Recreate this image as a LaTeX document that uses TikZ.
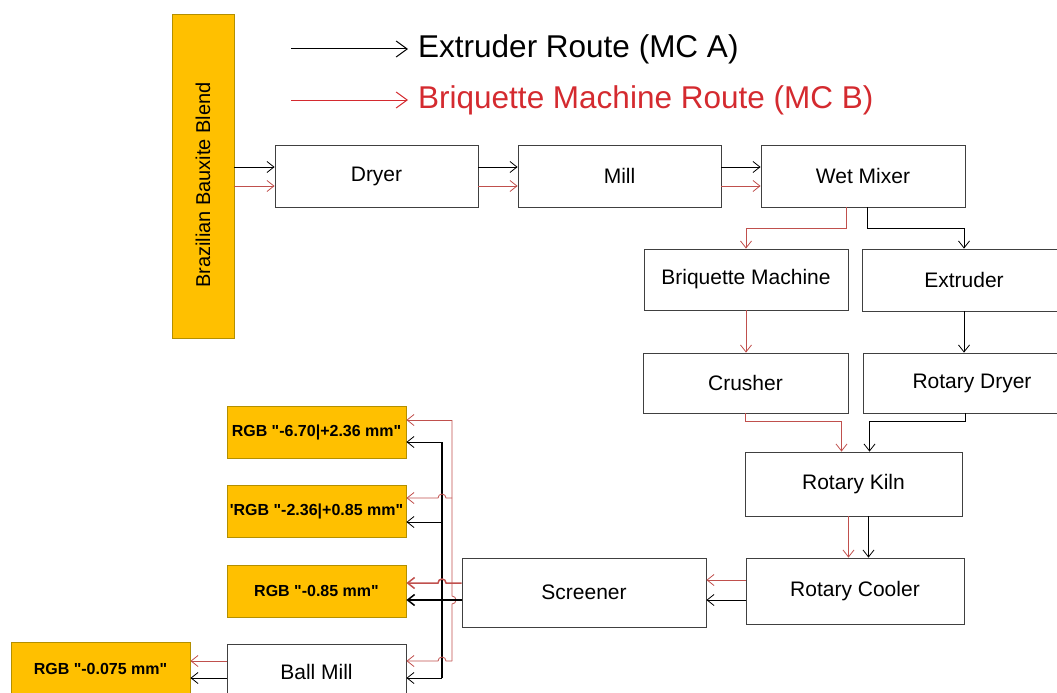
\documentclass[tikz,border=0pt]{standalone}
\usepackage{fontspec}
\newfontfamily\arialfont{Liberation Sans}
\usetikzlibrary{arrows.meta,calc}

\definecolor{mcbred}{HTML}{C0504D}
\definecolor{legendred}{HTML}{D42A2F}
\definecolor{gradefill}{HTML}{FFC000}
\definecolor{gradeedge}{HTML}{B38F00}

\tikzset{
  unitbox/.style={draw=black!75, fill=white, line width=0.8pt, inner sep=0pt,
    font=\arialfont\fontsize{21}{25}\selectfont},
  gradebox/.style={draw=gradeedge, fill=gradefill, line width=0.8pt, inner sep=0pt,
    minimum width=179pt, minimum height=52pt,
    font=\arialfont\bfseries\fontsize{16}{19}\selectfont},
  routeA/.style={black, line width=0.8pt, -{Straight Barb[length=7pt,width=11pt]}},
  routeB/.style={mcbred, line width=0.8pt, -{Straight Barb[length=7pt,width=11pt]}},
  legendtip/.style={line width=1pt, -{Straight Barb[length=11pt,width=16pt]}},
  legendtext/.style={anchor=west, inner sep=0pt, font=\arialfont\fontsize{31.5}{36}\selectfont},
  busline/.style={line width=1.5pt},
}

\begin{document}
\begin{tikzpicture}[x=1pt, y=1pt]
  \clip (0,0) rectangle (1057,-693);

  % legend
  \coordinate (legA) at (291,-49);
  \coordinate (legB) at (291,-100);
  \node[legendtext] (legtxtA) at (418,-49) {Extruder Route (MC A)};
  \node[legendtext, text=legendred] (legtxtB) at (418,-100) {Briquette Machine Route (MC B)};
  \draw[legendtip, black] (legA) -- ([xshift=-10pt]legtxtA.west);
  \draw[legendtip, legendred] (legB) -- ([xshift=-10pt]legtxtB.west);

  % feed and first line
  \node[draw=gradeedge, fill=gradefill, line width=0.8pt,
        minimum width=62pt, minimum height=324pt] (blend) at (203,-176) {};
  \node[rotate=90, font=\arialfont\fontsize{20}{24}\selectfont] (blendtxt) at (203,-185)
    {Brazilian Bauxite Blend};
  \node[unitbox, minimum width=203pt, minimum height=62pt] (dryer) at (376.5,-176) {Dryer};
  \node[unitbox, minimum width=203pt, minimum height=62pt] (mill) at (619.5,-176) {Mill};
  \node[unitbox, minimum width=204pt, minimum height=62pt] (wetmix) at (863,-176) {Wet Mixer};

  % two routes
  \node[unitbox, minimum width=204pt, minimum height=61pt] (briq) at (746,-279.5) {Briquette Machine};
  \node[unitbox, minimum width=204pt, minimum height=62pt] (extr) at (964,-280) {Extruder};
  \node[unitbox, minimum width=205pt, minimum height=60pt] (crush) at (745.5,-383) {Crusher};
  \node[unitbox, minimum width=218pt, minimum height=60pt] (rdryer) at (972,-383) {Rotary Dryer};
  \node[unitbox, minimum width=217pt, minimum height=64pt] (kiln) at (853.5,-484) {Rotary Kiln};
  \node[unitbox, minimum width=218pt, minimum height=66pt] (cooler) at (855,-591) {Rotary Cooler};
  \node[unitbox, minimum width=244pt, minimum height=69pt] (screen) at (584,-592.5) {Screener};

  % products
  \node[gradebox] (grade1) at (316.5,-432) {RGB "-6.70|+2.36 mm"};
  \node[gradebox] (grade2) at (316.5,-511) {'RGB "-2.36|+0.85 mm"};
  \node[gradebox] (grade3) at (316.5,-591) {RGB "-0.85 mm"};
  \node[unitbox, minimum width=179pt, minimum height=56pt] (ballmill) at (316.5,-672) {Ball Mill};
  \node[gradebox, minimum height=54pt] (grade4) at (100.5,-669) {RGB "-0.075 mm"};

  % first line
  \foreach \a/\b in {blend/dryer, dryer/mill, mill/wetmix} {
    \draw[routeA] ([yshift=9pt]\b.west -| \a.east) -- ([yshift=9pt]\b.west);
    \draw[routeB] ([yshift=-10pt]\b.west -| \a.east) -- ([yshift=-10pt]\b.west);
  }

  % split after the wet mixer
  \draw[routeB] ([xshift=-17pt]wetmix.south) -- ++(0,-21) -| (briq.north);
  \draw[routeA] ([xshift=4pt]wetmix.south) -- ++(0,-21) -| (extr.north);
  \draw[routeB] (briq.south) -- (briq.south |- crush.north);
  \draw[routeA] (extr.south) -- (extr.south |- rdryer.north);
  \draw[routeB] (crush.south) -- ++(0,-8) -| ([xshift=-12pt]kiln.north);
  \draw[routeA] ([xshift=-7pt]rdryer.south) -- ++(0,-8) -| ([xshift=16pt]kiln.north);
  \draw[routeB] ([xshift=-5pt]kiln.south) -- ([xshift=-5pt]kiln.south |- cooler.north);
  \draw[routeA] ([xshift=15pt]kiln.south) -- ([xshift=15pt]kiln.south |- cooler.north);
  \draw[routeB] ([yshift=11pt]cooler.west) -- ([yshift=11pt]cooler.west -| screen.east);
  \draw[routeA] ([yshift=-9pt]cooler.west) -- ([yshift=-9pt]cooler.west -| screen.east);

  % screener buses
  \coordinate (scrB) at ([yshift=9.5pt]screen.west);
  \coordinate (scrA) at ([yshift=-7.5pt]screen.west);
  \coordinate (tapA1) at (442,-442);
  \coordinate (tapA2) at (442,-522);
  \coordinate (tapA4) at (442,-678);
  \coordinate (tapB1) at (452,-420);
  \coordinate (tapB2) at (452,-498);
  \coordinate (tapB4) at (452,-661);

  \draw[busline] (tapA1) -- (tapA4);
  \draw[mcbred, line width=0.8pt] (tapB1) -- ($(scrA -| tapB1)+(0,4)$)
    arc[start angle=90, end angle=-90, radius=4pt] -- (tapB4);

  \draw[routeA] (tapA1) -- (tapA1 -| grade1.east);
  \draw[routeA] (tapA2) -- (tapA2 -| grade2.east);
  \draw[routeA, busline] (scrA) -- (scrA -| grade3.east);
  \draw[routeA] (tapA4) -- (tapA4 -| ballmill.east);

  \draw[routeB] (tapB1) -- (tapB1 -| grade1.east);
  \draw[routeB] (tapB2) -- ($(tapB2 -| tapA1)+(4,0)$)
    arc[start angle=0, end angle=180, radius=4pt] -- (tapB2 -| grade2.east);
  \draw[routeB, line width=1.5pt] (scrB) -- ($(scrB -| tapA1)+(4,0)$)
    arc[start angle=0, end angle=180, radius=4pt] -- (scrB -| grade3.east);
  \draw[routeB] (tapB4) -- ($(tapB4 -| tapA1)+(4,0)$)
    arc[start angle=0, end angle=180, radius=4pt] -- (tapB4 -| ballmill.east);

  % ball mill
  \draw[routeB] (tapB4 -| ballmill.west) -- (tapB4 -| grade4.east);
  \draw[routeA] (tapA4 -| ballmill.west) -- (tapA4 -| grade4.east);
\end{tikzpicture}
\end{document}
